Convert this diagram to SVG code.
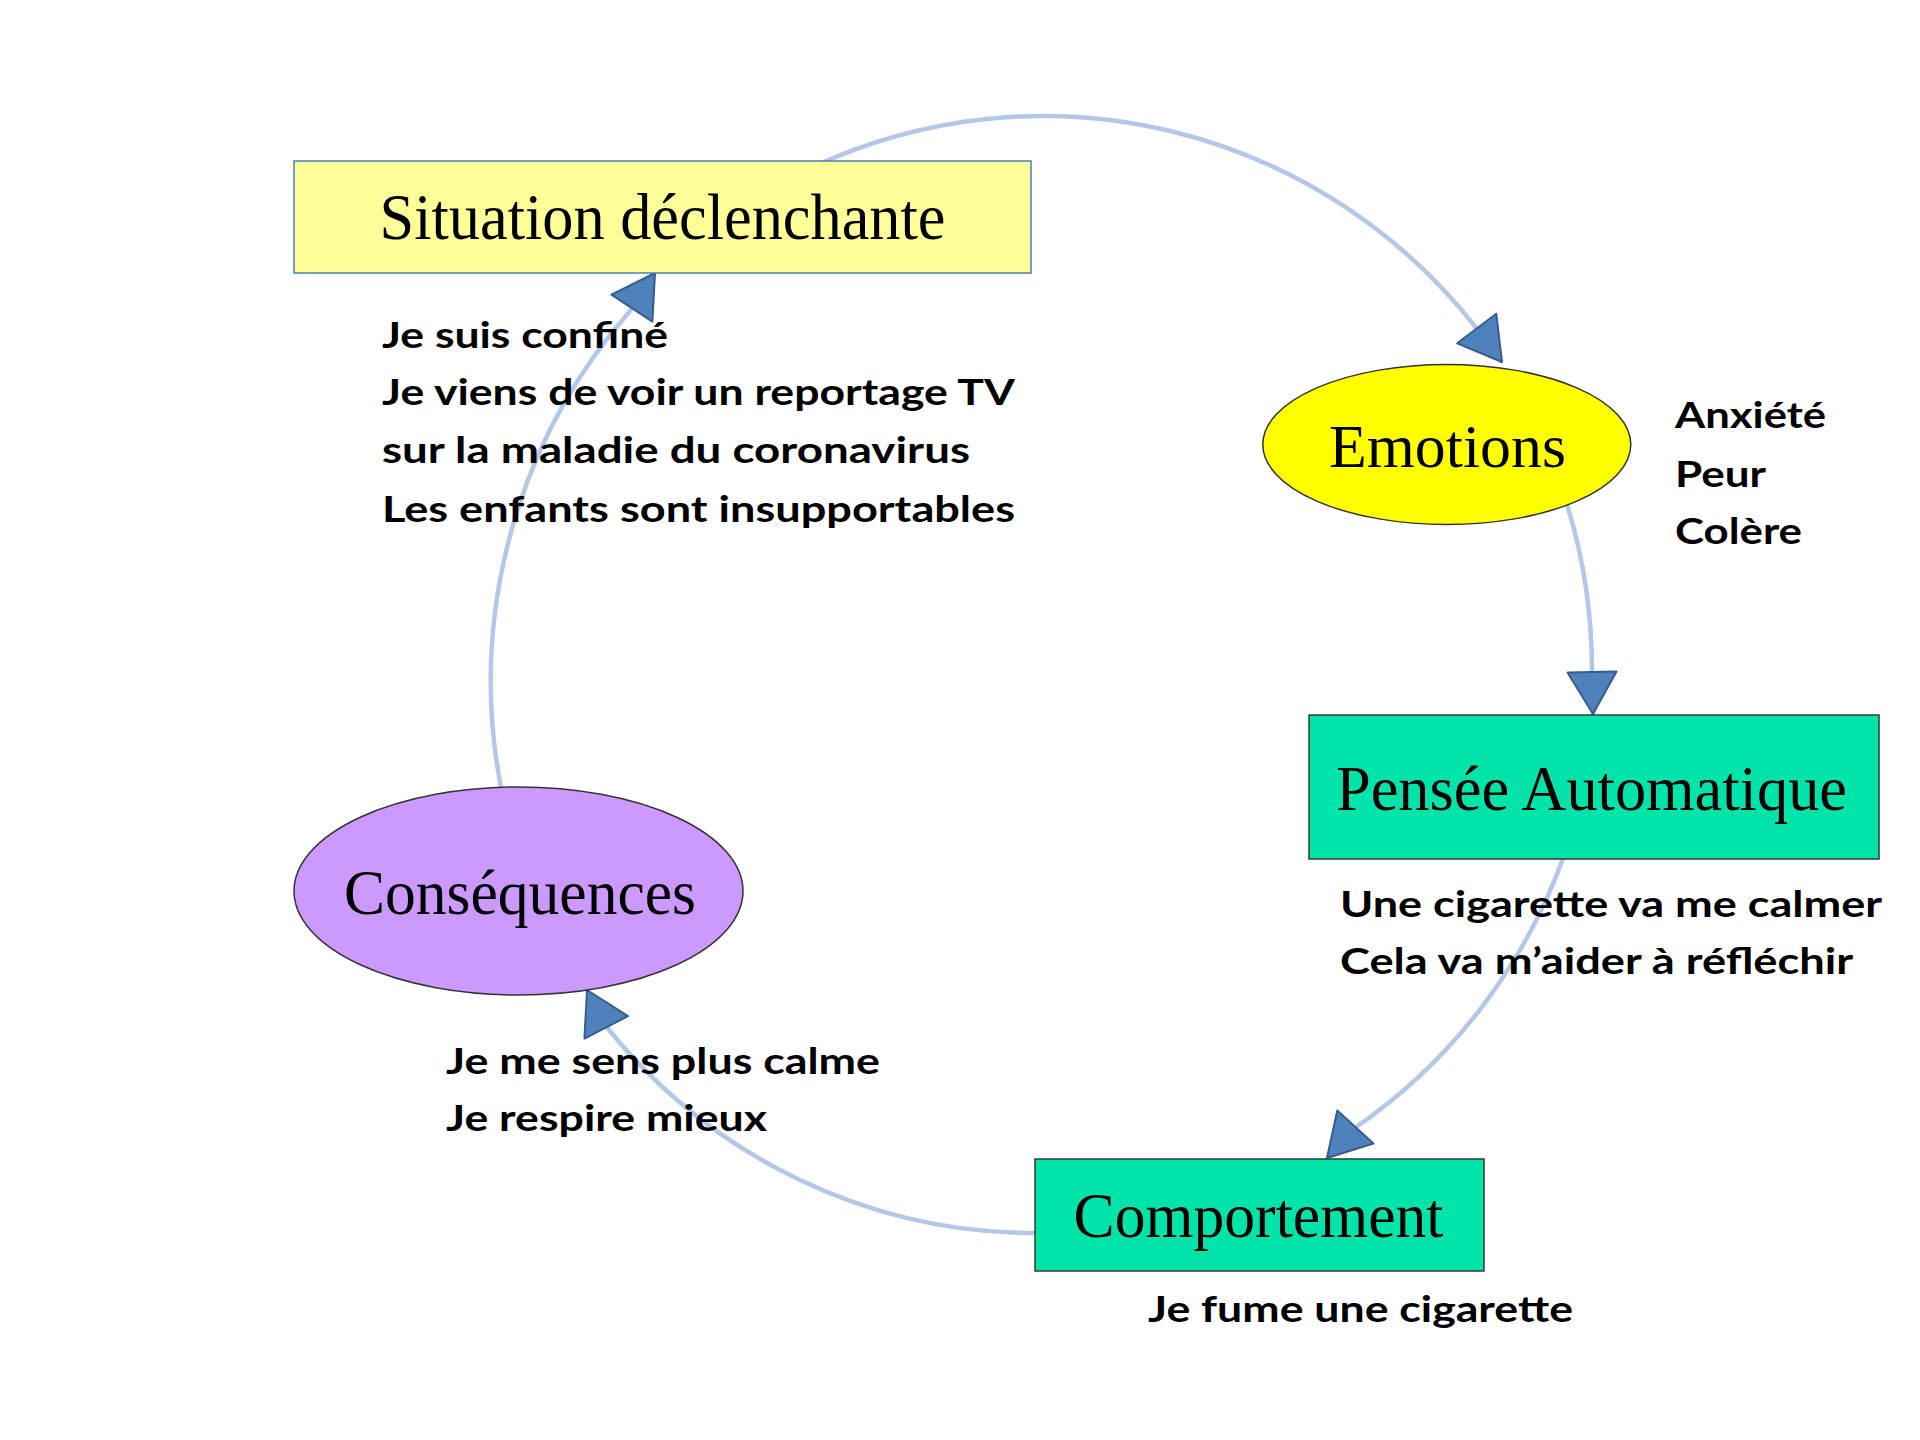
<svg xmlns="http://www.w3.org/2000/svg" width="1920" height="1440" viewBox="0 0 1920 1440">
<defs>
<style>
.title{font-family:"Liberation Serif","Times New Roman",serif;fill:#000;}
.body{font-family:Lato,"Liberation Sans",sans-serif;font-weight:bold;font-size:37px;fill:#000;}
.conn{fill:none;stroke:#b4c7e7;stroke-width:4.5;marker-end:url(#arrow);}
.box{stroke-width:1.5;}
</style>
<marker id="arrow" markerUnits="userSpaceOnUse" viewBox="-3 -3 49 55" markerWidth="49" markerHeight="55" refX="42" refY="24.5" orient="auto" overflow="visible">
<path d="M0,0 L42,24.5 L0,49 Z" fill="#4f81bd" stroke="#385d8a" stroke-width="2" stroke-linejoin="round"/>
</marker>
</defs>
<rect width="1920" height="1440" fill="#ffffff"/>
<g id="connectors">
<path class="conn" d="M815,166 A552,558 0 0,1 1477.5,329.5 L1502,362"/>
<path class="conn" d="M1564,495 A552,558 0 0,1 1592,671 L1593,714"/>
<path class="conn" d="M1566,850 A552,558 0 0,1 1354,1128.5 L1327,1158"/>
<path class="conn" d="M1040,1233 A552,558 0 0,1 605,1025 L587,990"/>
<path class="conn" d="M503.5,800 A552,558 0 0,1 630,311 L655,273"/>
</g>
<g id="situation">
<rect class="box" x="294" y="161" width="737" height="112" fill="#ffff99" stroke="#4a7ebb"/>
<text class="title" x="379.5" y="239" font-size="66" textLength="566" lengthAdjust="spacingAndGlyphs">Situation déclenchante</text>
<text class="body" x="382" y="348" textLength="286" lengthAdjust="spacingAndGlyphs">Je suis confiné</text>
<text class="body" x="382" y="405" textLength="633" lengthAdjust="spacingAndGlyphs">Je viens de voir un reportage TV</text>
<text class="body" x="382" y="463" textLength="588" lengthAdjust="spacingAndGlyphs">sur la maladie du coronavirus</text>
<text class="body" x="382" y="522" textLength="633" lengthAdjust="spacingAndGlyphs">Les enfants sont insupportables</text>
</g>
<g id="emotions">
<ellipse class="box" cx="1446.8" cy="444.5" rx="184" ry="80" fill="#ffff00" stroke="#333333"/>
<text class="title" x="1329" y="467" font-size="62" textLength="237" lengthAdjust="spacingAndGlyphs">Emotions</text>
<text class="body" x="1675" y="428" textLength="151" lengthAdjust="spacingAndGlyphs">Anxiété</text>
<text class="body" x="1675" y="487" textLength="91" lengthAdjust="spacingAndGlyphs">Peur</text>
<text class="body" x="1675" y="544" textLength="127" lengthAdjust="spacingAndGlyphs">Colère</text>
</g>
<g id="pensee">
<rect class="box" x="1309" y="715" width="570" height="144" fill="#00e4aa" stroke="#2f3f2f"/>
<text class="title" x="1336" y="810" font-size="63" textLength="511" lengthAdjust="spacingAndGlyphs">Pensée Automatique</text>
<text class="body" x="1340" y="917" textLength="542" lengthAdjust="spacingAndGlyphs">Une cigarette va me calmer</text>
<text class="body" x="1340" y="974" textLength="513" lengthAdjust="spacingAndGlyphs">Cela va m’aider à réfléchir</text>
</g>
<g id="comportement">
<rect class="box" x="1035" y="1159" width="449" height="112" fill="#00e4aa" stroke="#2f3f2f"/>
<text class="title" x="1073.5" y="1237" font-size="63" textLength="370" lengthAdjust="spacingAndGlyphs">Comportement</text>
<text class="body" x="1148" y="1322" textLength="425" lengthAdjust="spacingAndGlyphs">Je fume une cigarette</text>
</g>
<g id="consequences">
<ellipse class="box" cx="518.5" cy="891" rx="224.5" ry="104" fill="#cc99ff" stroke="#333333"/>
<text class="title" x="344" y="914" font-size="63" textLength="352" lengthAdjust="spacingAndGlyphs">Conséquences</text>
<text class="body" x="446" y="1074" textLength="434" lengthAdjust="spacingAndGlyphs">Je me sens plus calme</text>
<text class="body" x="446" y="1131" textLength="321" lengthAdjust="spacingAndGlyphs">Je respire mieux</text>
</g>
</svg>
